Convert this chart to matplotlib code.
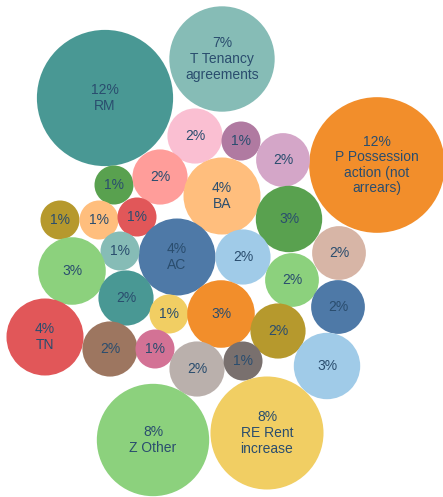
import matplotlib
matplotlib.use("Agg")
import matplotlib.pyplot as plt
from matplotlib.patches import Circle
import numpy as np

# ---- data ----
labels = ["RM", "T Tenancy\nagreements", "P Possession\naction (not\narrears)", "", "", "",
          "", "", "BA", "", "", "", "",
          "AC", "", "", "", "", "", "", "",
          "", "", "", "TN", "", "", "", "",
          "", "Z Other", "RE Rent\nincrease"]
values = [12.2, 7.3, 12.1, 2.0, 1.0, 1.9,
          1.0, 2.0, 3.9, 2.9, 1.0, 1.0, 1.0,
          3.9, 1.0, 2.0, 1.9, 3.0, 1.9, 2.0, 1.9,
          1.0, 3.0, 2.0, 3.9, 2.0, 1.0, 2.0, 1.0,
          2.9, 8.3, 8.4]
colors = ["#499894", "#86BCB6", "#F28E2B", "#FABFD2", "#B07AA1", "#D4A6C8",
          "#59A14F", "#FF9D9A", "#FFBE7D", "#59A14F", "#B6992D", "#FFBE7D", "#E15759",
          "#4E79A7", "#86BCB6", "#A0CBE8", "#D7B5A6", "#8CD17D", "#8CD17D", "#499894", "#4E79A7",
          "#F1CE63", "#F28E2B", "#B6992D", "#E15759", "#9D7660", "#D37295", "#BAB0AC", "#79706E",
          "#A0CBE8", "#8CD17D", "#F1CE63"]
# bubble layout (pixel-like coordinates, y downward)
bubble_x = [105, 222, 377, 195, 241, 283,
            114, 160, 222, 289, 60, 99, 137,
            177, 120, 243, 339, 72, 292, 126, 338,
            169, 221, 278, 45, 110, 155, 197, 243,
            327, 153, 267]
bubble_y = [98, 59, 165, 136, 141, 160,
            185, 177, 196, 219, 220, 220, 217,
            257, 251, 257, 253, 271, 280, 298, 307,
            314, 314, 331, 337, 349, 349, 369, 361,
            366, 440, 433]

W, H = 443, 497
fig = plt.figure(figsize=(W / 100, H / 100), dpi=100)
ax = fig.add_axes([0, 0, 1, 1])
ax.set_xlim(0, W)
ax.set_ylim(H, 0)
ax.set_aspect("equal")
ax.axis("off")

k = 19.5
text_color = "#2a4d6e"
for x, y, v, c, lab in zip(bubble_x, bubble_y, values, colors, labels):
    r = k * np.sqrt(v)
    ax.add_patch(Circle((x, y), r, facecolor=c, edgecolor="none"))
    txt = f"{round(v)}%" + (("\n" + lab) if lab else "")
    ax.text(x, y, txt, ha="center", va="center", fontsize=10,
            family="Liberation Sans", color=text_color, linespacing=1.15)

fig.savefig("out.png", dpi=100)
